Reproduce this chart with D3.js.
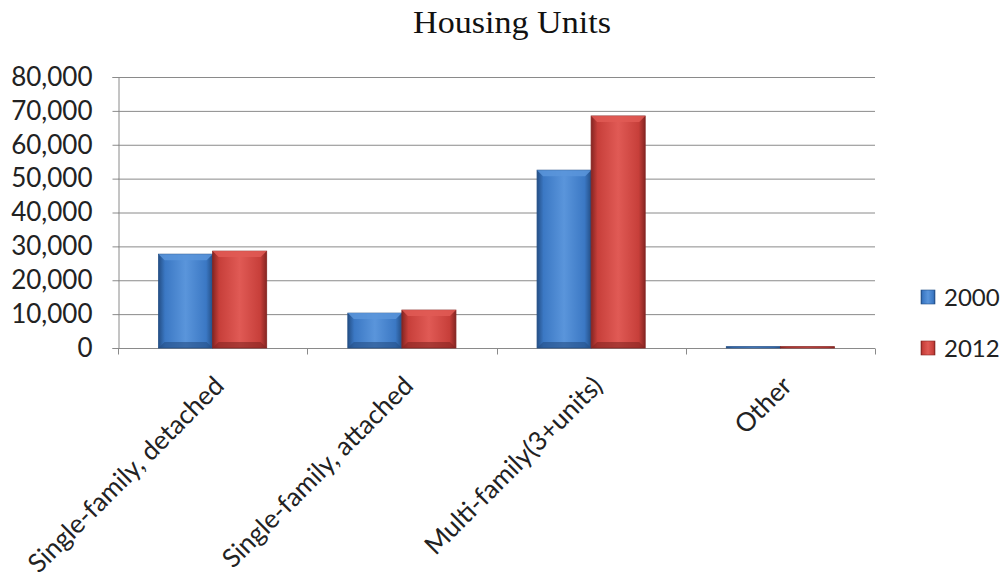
<!DOCTYPE html>
<html lang="en">
<head>
<meta charset="UTF-8">
<title>Housing Units</title>
<script src="https://d3js.org/d3.v7.min.js"></script>
<style>
  body { margin: 0; background: #fff; }
  .axis text { font-family: Lato, "Open Sans", sans-serif; font-size: 26px; fill: #222; }
  .title { font-family: "Liberation Serif", "DejaVu Serif", serif; font-size: 32px; fill: #111; }
  .legend text { font-family: Lato, "Open Sans", sans-serif; font-size: 24px; fill: #222; }
</style>
</head>
<body>
<svg width="1005" height="580"></svg>
<script>
// chart data
const categories = ["Single-family, detached", "Single-family, attached", "Multi-family(3+units)", "Other"];
const years = ["2000", "2012"];
const values2000 = [27700, 10300, 52500, 400];
const values2012 = [28600, 11200, 68500, 400];
const yTicks = [0, 10000, 20000, 30000, 40000, 50000, 60000, 70000, 80000];

const svg = d3.select("svg");
const plotLeft = 118, plotRight = 875, plotTop = 77, plotBottom = 348;

const x = d3.scaleBand().domain(categories).range([plotLeft, plotRight]).paddingInner(0).paddingOuter(0);
const inner = d3.scaleBand().domain(years).range([0, x.bandwidth()]).paddingInner(0).paddingOuter(0.75);
const y = d3.scaleLinear().domain([0, 80000]).range([plotBottom, plotTop]);

const colors = {
  "2000": { light: "#5a95db", mid: "#3b78c4", dark: "#244f86" },
  "2012": { light: "#e05a55", mid: "#c73f3a", dark: "#852522" }
};

// gradients
const defs = svg.append("defs");
years.forEach(yr => {
  const g = defs.append("linearGradient").attr("id", "g" + yr)
    .attr("x1", 0).attr("x2", 1).attr("y1", 0).attr("y2", 0);
  g.append("stop").attr("offset", "0%").attr("stop-color", colors[yr].dark);
  g.append("stop").attr("offset", "12%").attr("stop-color", colors[yr].mid);
  g.append("stop").attr("offset", "50%").attr("stop-color", colors[yr].light);
  g.append("stop").attr("offset", "88%").attr("stop-color", colors[yr].mid);
  g.append("stop").attr("offset", "100%").attr("stop-color", colors[yr].dark);
});

svg.append("text").attr("class", "title")
  .attr("x", 512).attr("y", 33).attr("text-anchor", "middle")
  .attr("textLength", 198).attr("lengthAdjust", "spacingAndGlyphs")
  .text("Housing Units");

// gridlines
svg.append("g").selectAll("line").data(yTicks).enter().append("line")
  .attr("x1", plotLeft).attr("x2", plotRight)
  .attr("y1", d => y(d) + 0.5).attr("y2", d => y(d) + 0.5)
  .attr("stroke", "#8a8a8a").attr("stroke-width", 1);

// y axis
const yAxis = svg.append("g").attr("class", "axis")
  .attr("transform", `translate(${plotLeft + 0.5},0)`)
  .call(d3.axisLeft(y).tickValues(yTicks).tickFormat(d3.format(",")).tickSizeOuter(0).tickSize(6).tickPadding(20));
yAxis.selectAll("path, line").attr("stroke", "#8a8a8a");

// x axis
const xAxis = svg.append("g").attr("class", "axis")
  .attr("transform", `translate(0,${plotBottom + 0.5})`);
xAxis.append("line").attr("x1", plotLeft).attr("x2", plotRight).attr("stroke", "#8a8a8a");
xAxis.selectAll(".tk").data(d3.range(categories.length + 1)).enter().append("line")
  .attr("x1", i => Math.round(plotLeft + i * x.bandwidth()) + 0.5)
  .attr("x2", i => Math.round(plotLeft + i * x.bandwidth()) + 0.5)
  .attr("y1", 0).attr("y2", 6).attr("stroke", "#8a8a8a");
xAxis.selectAll(".lbl").data(categories).enter().append("text")
  .attr("transform", d => `translate(${x(d) + x.bandwidth() / 2 + 13},${39}) rotate(-45)`)
  .attr("text-anchor", "end")
  .text(d => d);

// bars
const series = [values2000, values2012];
categories.forEach((c, i) => {
  years.forEach((yr, j) => {
    const v = series[j][i];
    const bx = x(c) + inner(yr), bw = inner.bandwidth();
    const by = y(v), bh = plotBottom - y(v);
    const g = svg.append("g");
    g.append("rect").attr("x", bx).attr("y", by).attr("width", bw).attr("height", bh)
      .attr("fill", `url(#g${yr})`).attr("stroke", colors[yr].dark).attr("stroke-width", 0.8);
    if (bh > 12) {
      const b = 6;
      g.append("path")
        .attr("d", `M${bx},${by}L${bx + bw},${by}L${bx + bw - b},${by + b}L${bx + b},${by + b}Z`)
        .attr("fill", colors[yr].light).attr("opacity", 0.85);
      g.append("path")
        .attr("d", `M${bx},${by + bh}L${bx + bw},${by + bh}L${bx + bw - b},${by + bh - b}L${bx + b},${by + bh - b}Z`)
        .attr("fill", colors[yr].dark).attr("opacity", 0.6);
    }
  });
});

// legend
const legend = svg.append("g").attr("class", "legend");
years.forEach((yr, i) => {
  const ly = 297 + i * 51;
  legend.append("rect").attr("x", 921).attr("y", ly - 7).attr("width", 14).attr("height", 14)
    .attr("fill", `url(#g${yr})`).attr("stroke", colors[yr].dark).attr("stroke-width", 0.6);
  legend.append("text").attr("x", 944).attr("y", ly + 9).text(yr);
});
</script>
</body>
</html>
